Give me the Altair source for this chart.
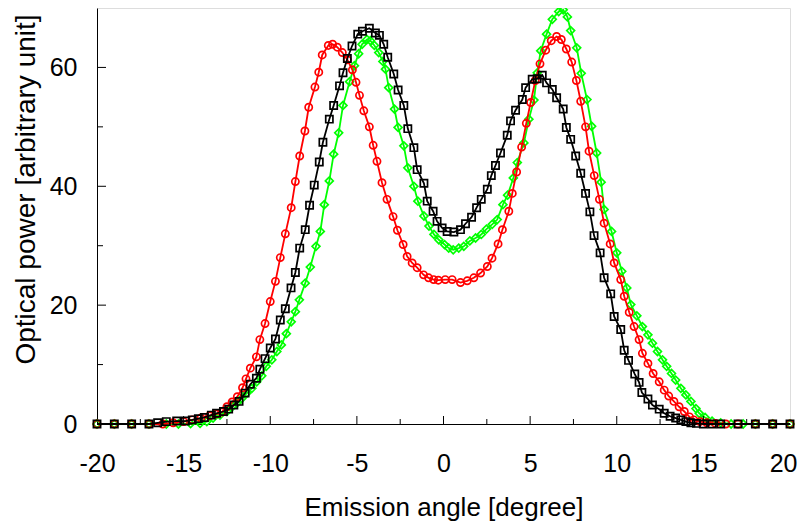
import altair as alt
import pandas as pd

# ---------------- data ----------------
red_x = [-20, -19, -18, -17, -16.2, -15.6, -15.0, -14.5, -14.0, -13.5, -13.1, -12.8, -12.5, -12.2,
         -11.9, -11.6, -11.4, -11.15, -10.8, -10.6, -10.3, -10.0, -9.7, -9.42, -9.13, -8.79, -8.55,
         -8.3, -8.0, -7.78, -7.42, -7.2, -7.0, -6.65, -6.4, -6.13, -5.84, -5.55, -5.26, -5.05, -4.85,
         -4.6, -4.28, -4.06, -3.84, -3.55, -3.26, -2.91, -2.66, -2.33, -2.1, -1.81, -1.52, -1.15,
         -0.86, -0.57, -0.3, 0.1, 0.5, 0.98, 1.37, 1.75, 2.14, 2.53, 2.8, 3.15, 3.4, 3.77, 3.97, 4.22,
         4.51, 4.78, 5.03, 5.3, 5.57, 5.9, 6.22, 6.53, 6.8, 7.09, 7.4, 7.67, 7.92, 8.2, 8.4, 8.7, 9.0,
         9.27, 9.62, 9.85, 10.23, 10.43, 10.72, 11.0, 11.29, 11.48, 11.8, 12.1, 12.45, 12.74, 13.0,
         13.3, 13.6, 13.9, 14.2, 14.45, 14.8, 15.2, 15.7, 16.3, 17, 18, 19, 20]
red_y = [0, 0, 0, 0, 0, 0.2, 0.4, 0.7, 1.0, 1.4, 1.7, 2.0, 2.9, 3.7,
         4.6, 6.1, 7.6, 9.4, 11.3, 14.2, 16.9, 20.6, 24.0, 28.0, 32.0, 36.4, 40.8,
         45.1, 49.3, 53.3, 56.7, 59.2, 62.1, 63.7, 63.9, 63.4, 62.5, 61.3, 59.6, 57.5, 55.3,
         52.7, 50.0, 46.9, 44.2, 40.6, 37.8, 34.9, 32.6, 30.2, 28.2, 27.1, 26.3, 25.1,
         24.6, 24.3, 24.2, 24.3, 24.3, 23.8, 24.1, 24.6, 25.4, 26.5, 27.9, 30.3, 32.7, 35.8, 38.8, 42.4,
         46.6, 50.6, 54.1, 57.8, 60.6, 62.9, 64.5, 65.2, 64.7, 63.1, 60.9, 57.8, 54.3, 50.0, 45.9, 41.8, 37.8,
         33.8, 30.3, 27.1, 24.3, 21.5, 18.8, 16.4, 14.2, 11.9, 10.2, 8.5, 7.1, 5.7, 4.7,
         3.8, 2.9, 2.1, 1.2, 0.7, 0.4, 0.2, 0.1, 0, 0, 0, 0, 0]

black_x = [-20, -19, -18, -17, -16.5, -16.0, -15.4, -14.9, -14.5, -14.15, -13.8, -13.4, -13.1, -12.7,
           -12.4, -12.1, -11.8, -11.45, -11.15, -10.8, -10.6, -10.3, -10.0, -9.7, -9.42, -9.13, -8.8,
           -8.55, -8.3, -7.98, -7.73, -7.46, -7.17, -6.96, -6.59, -6.34, -6.0, -5.8, -5.55, -5.28, -4.95,
           -4.68, -4.28, -3.93, -3.7, -3.45, -3.22, -2.87, -2.62, -2.29, -2.06, -1.71, -1.52, -1.13,
           -0.94, -0.6, -0.37, -0.08, 0.21, 0.6, 0.98, 1.27, 1.62, 1.91, 2.18, 2.53, 2.76, 3.0, 3.29,
           3.68, 3.87, 4.16, 4.55, 4.74, 5.12, 5.41, 5.7, 5.95, 6.28, 6.53, 6.91, 7.09, 7.34, 7.63, 7.92,
           8.2, 8.45, 8.69, 9.04, 9.27, 9.65, 9.85, 10.23, 10.43, 10.68, 11.04, 11.29, 11.45, 11.8,
           12.06, 12.45, 12.74, 13.08, 13.4, 13.7, 13.99, 14.28, 14.6, 15, 15.5, 16, 17, 18, 19, 20]
black_y = [0, 0, 0, 0, 0.2, 0.4, 0.5, 0.5, 0.7, 0.9, 1.1, 1.5, 1.8, 2.1,
           2.5, 3.2, 3.8, 5.2, 6.7, 7.7, 9.2, 11.0, 12.8, 14.3, 17.5, 19.4, 22.9,
           25.5, 29.6, 32.7, 36.8, 40.2, 44.1, 47.4, 51.3, 53.6, 56.9, 59.1, 61.5, 63.6, 65.6,
           66.1, 66.6, 65.8, 65.4, 63.9, 61.7, 58.9, 56.2, 53.6, 49.7, 46.5, 42.8, 40.5,
           37.5, 35.8, 34.1, 33.0, 32.4, 32.3, 32.7, 33.7, 34.8, 36.4, 37.8, 39.5, 41.8, 43.5, 45.6,
           48.6, 51.0, 52.8, 54.6, 56.6, 58.0, 58.1, 58.7, 57.4, 56.3, 54.9, 53.0, 49.9, 47.9, 45.1, 42.2,
           38.8, 35.7, 31.7, 28.8, 24.6, 21.9, 18.1, 15.9, 12.4, 10.7, 8.4, 7.0, 5.3, 4.2,
           3.2, 2.5, 1.8, 1.3, 1.0, 0.7, 0.4, 0.2, 0.1, 0, 0, 0, 0, 0, 0, 0]

green_x = [-20, -19, -18, -17, -16, -15.3, -14.6, -14.05, -13.66, -13.3, -12.9, -12.5, -12.2, -11.93,
           -11.64, -11.35, -11.06, -10.78, -10.49, -10.23, -9.91, -9.62, -9.36, -9.07, -8.79, -8.55,
           -8.32, -7.98, -7.69, -7.36, -7.11, -6.88, -6.59, -6.34, -6.05, -5.8, -5.42, -5.14, -4.9,
           -4.7, -4.42, -4.22, -3.99, -3.74, -3.5, -3.35, -3.16, -2.83, -2.62, -2.29, -2.06, -1.71,
           -1.48, -1.13, -0.84, -0.55, -0.27, 0.06, 0.3, 0.56, 0.88, 1.17, 1.52, 1.85, 2.18, 2.48, 2.81,
           3.1, 3.43, 3.7, 4.03, 4.26, 4.64, 4.93, 5.22, 5.41, 5.61, 5.95, 6.28, 6.65, 6.91, 7.15, 7.34,
           7.69, 7.95, 8.28, 8.55, 8.84, 9.1, 9.27, 9.7, 10.0, 10.29, 10.58, 10.81, 11.16, 11.48, 11.8,
           12.06, 12.35, 12.64, 12.88, 13.16, 13.4, 13.7, 13.99, 14.28, 14.57, 14.76, 15.1, 15.5, 16.0,
           16.6, 17.3, 18, 19, 20]
green_y = [0, 0, 0, 0, 0, 0, 0.05, 0.1, 0.4, 1.0, 1.5, 2.1, 2.9, 3.5,
           4.3, 5.2, 6.0, 7.1, 8.1, 9.7, 10.8, 12.2, 13.3, 15.2, 17.2, 18.9,
           20.9, 23.7, 26.4, 29.9, 32.4, 36.9, 40.9, 45.4, 49.0, 53.6, 57.6, 60.3, 62.3,
           63.9, 64.7, 64.5, 63.7, 62.5, 61.0, 59.7, 56.6, 53.0, 49.9, 46.8, 43.1, 40.0,
           37.5, 35.0, 33.3, 31.9, 31.0, 30.2, 29.6, 29.3, 29.6, 29.9, 30.8, 31.3, 31.9, 32.8, 33.6,
           34.4, 36.9, 38.5, 41.4, 44.0, 47.3, 51.3, 54.5, 59.1, 62.8, 65.6, 68.1, 69.4, 69.7, 68.5, 66.2,
           63.3, 59.0, 54.6, 50.1, 45.6, 40.7, 36.1, 32.4, 28.8, 25.7, 22.9, 20.1, 18.2, 16.4, 15.0,
           13.6, 12.2, 10.8, 9.7, 8.5, 7.4, 6.0, 4.9, 3.8, 2.6, 1.8, 1.1, 0.5, 0.2,
           0, 0, 0, 0, 0]

x_ticks = [-20, -15, -10, -5, 0, 5, 10, 15, 20]
x_major_inner = [-15, -10, -5, 0, 5, 10, 15]
x_minor = [-17.5, -12.5, -7.5, -2.5, 2.5, 7.5, 12.5, 17.5]
y_ticks = [0, 20, 40, 60]
y_major_inner = [20, 40, 60]
y_minor = [10, 30, 50]

x_title = "Emission angle [degree]"
y_title = "Optical power [arbitrary unit]"

# ---------------- chart ----------------
FONT = "Liberation Sans"
W, H = 693, 416

xscale = alt.Scale(domain=[-20, 20], nice=False, zero=False)
yscale = alt.Scale(domain=[0, 70], nice=False)

xaxis = alt.Axis(values=x_ticks, title=x_title, labelExpr="'' + datum.value",
                 ticks=False, tickSize=0, labelPadding=27, labelFontSize=25,
                 labelFlush=False, labelOverlap=False,
                 labelAlign={"expr": "datum.value == 20 ? 'right' : 'center'"},
                 labelOffset={"expr": "datum.value == 20 ? 7 : 0"},
                 labelFont=FONT, labelColor="black", grid=False,
                 titleFont=FONT, titleFontSize=26, titleFontWeight="normal", titleColor="black",
                 titleBaseline="alphabetic", titleY=91,
                 domainColor="black", domainWidth=1)
yaxis = alt.Axis(values=y_ticks, title=y_title, labelExpr="'' + datum.value",
                 ticks=False, tickSize=0, labelPadding=20, labelFontSize=25,
                 labelFlush=False, labelOverlap=False,
                 labelFont=FONT, labelColor="black", grid=False,
                 titleFont=FONT, titleFontSize=28, titleFontWeight="normal", titleColor="black",
                 titleBaseline="alphabetic", titleAngle=-90, titleX=-63, titleY=181,
                 titleAlign="center",
                 domainColor="black", domainWidth=1)


def series(xs, ys, color, shape, size):
    df = pd.DataFrame({"angle": xs, "power": ys})
    base = alt.Chart(df).encode(
        x=alt.X("angle:Q", scale=xscale, axis=xaxis),
        y=alt.Y("power:Q", scale=yscale, axis=yaxis),
    )
    line = base.mark_line(color=color, strokeWidth=1.8)
    pts = base.mark_point(shape=shape, color=color, filled=False, size=size,
                          strokeWidth=1.7, opacity=1)
    return [line, pts]


def xtick_layer(vals, length):
    df = pd.DataFrame({"t": vals})
    return alt.Chart(df).mark_rule(color="black", strokeWidth=1).encode(
        x=alt.X("t:Q", scale=xscale, axis=xaxis),
        y=alt.value(H), y2=alt.value(H - length))


def ytick_layer(vals, length):
    df = pd.DataFrame({"t": vals})
    return alt.Chart(df).mark_rule(color="black", strokeWidth=1).encode(
        y=alt.Y("t:Q", scale=yscale, axis=yaxis),
        x=alt.value(0), x2=alt.value(length))


layers = []
layers += series(green_x, green_y, "#00FF00", "diamond", 62)
layers += series(red_x, red_y, "#FF0000", "circle", 52)
layers += series(black_x, black_y, "#000000", "square", 52)
layers += [xtick_layer(x_major_inner, 8), xtick_layer(x_minor, 5),
           ytick_layer(y_major_inner, 9), ytick_layer(y_minor, 6)]

chart = alt.layer(*layers).properties(
    width=W, height=H,
    autosize=alt.AutoSizeParams(type="none"),
    padding={"left": 89, "top": 0, "right": 7, "bottom": 98},
).configure_view(stroke="black", strokeWidth=1).configure(background="white")

chart.save("out.html", embed_options={"renderer": "svg", "actions": False})
